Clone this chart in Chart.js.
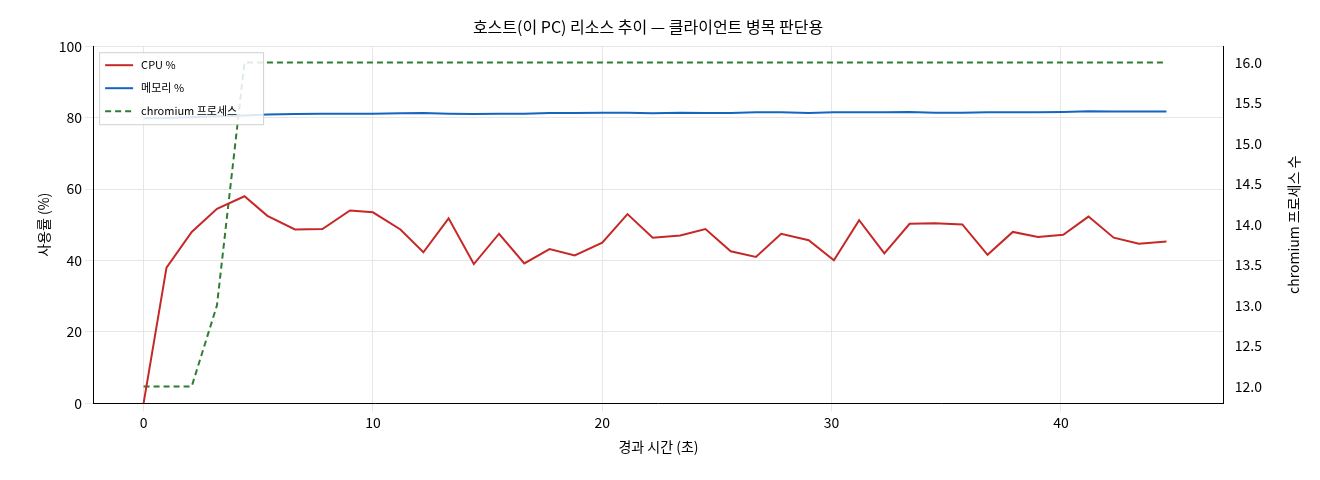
<!DOCTYPE html>
<html><head><meta charset="utf-8">
<script src="https://cdn.jsdelivr.net/npm/chart.js@4"></script>
<style>html,body{margin:0;background:#fff}#w{width:1320px;height:480px}</style>
</head><body><div id="w"><canvas id="c"></canvas></div>
<script>
const times=[0,1.0,2.1,3.2,4.4,5.4,6.6,7.8,9.0,10.0,11.2,12.2,13.3,14.4,15.5,16.6,17.7,18.8,20.0,21.1,22.2,23.4,24.5,25.6,26.7,27.8,29.0,30.1,31.2,32.3,33.4,34.5,35.7,36.8,37.9,39.0,40.1,41.2,42.3,43.4,44.6];
const cpu=[0,38,48,54.5,58,52.5,48.7,48.8,54,53.5,48.7,42.3,51.8,39,47.5,39.2,43.2,41.4,45,53,46.4,47,48.8,42.6,41,47.5,45.7,40.1,51.3,42,50.3,50.4,50.1,41.6,48,46.6,47.2,52.3,46.4,44.7,45.3];
const mem=[79.8,79.9,80.1,80.4,80.6,80.9,81.0,81.1,81.1,81.1,81.2,81.3,81.1,81.0,81.1,81.1,81.3,81.3,81.4,81.4,81.2,81.4,81.3,81.3,81.5,81.5,81.3,81.5,81.5,81.5,81.6,81.4,81.4,81.5,81.5,81.5,81.6,81.8,81.7,81.7,81.7];
const procs=[12,12,12,13,16,16,16,16,16,16,16,16,16,16,16,16,16,16,16,16,16,16,16,16,16,16,16,16,16,16,16,16,16,16,16,16,16,16,16,16,16];
const F='"Noto Sans CJK KR","DejaVu Sans",sans-serif';
const pts=a=>a.map((v,i)=>({x:times[i],y:v}));
const extra={id:'extra',afterDraw(ch){const c=ch.ctx,a=ch.chartArea;c.save();
 const x0=a.left+6,y0=a.top+6,w=164,h=72;
 c.fillStyle='rgba(255,255,255,0.85)';c.fillRect(x0,y0,w,h);c.strokeStyle='#d0d0d0';c.lineWidth=1;c.strokeRect(x0+0.5,y0+0.5,w,h);
 c.font='11px '+F;c.textBaseline='middle';c.fillStyle='#000';
 ch.data.datasets.forEach((d,i)=>{const y=y0+13+i*23;c.strokeStyle=d.borderColor;c.lineWidth=2;c.setLineDash(d.borderDash||[]);c.beginPath();c.moveTo(x0+6,y);c.lineTo(x0+34,y);c.stroke();c.setLineDash([]);c.fillText(d.label,x0+42,y);});
 c.translate(a.right+70,(a.top+a.bottom)/2);c.rotate(-Math.PI/2);c.textAlign='center';c.font='14px '+F;c.fillText('chromium 프로세스 수',0,0);c.restore();}};
new Chart(document.getElementById('c'),{type:'line',
data:{datasets:[
{label:'CPU %',data:pts(cpu),borderColor:'#c62828',borderWidth:2,pointRadius:0,yAxisID:'y'},
{label:'메모리 %',data:pts(mem),borderColor:'#1565c0',borderWidth:2,pointRadius:0,yAxisID:'y'},
{label:'chromium 프로세스',data:pts(procs),borderColor:'#2e7d32',borderWidth:2,borderDash:[6,4],pointRadius:0,yAxisID:'y1'}]},
options:{responsive:true,maintainAspectRatio:false,animation:false,
layout:{padding:{left:31,right:55,top:11,bottom:21}},
plugins:{title:{display:true,text:'호스트(이 PC) 리소스 추이 — 클라이언트 병목 판단용',font:{family:F,size:16,weight:'normal'},color:'#000',padding:{top:6,bottom:10}},
legend:{display:false},tooltip:{enabled:false}},
scales:{x:{type:'linear',min:-2.2,max:47.1,ticks:{color:'#000',font:{family:F,size:14}},afterBuildTicks:a=>{a.ticks=[0,10,20,30,40].map(v=>({value:v}));},
title:{display:true,text:'경과 시간 (초)',font:{family:F,size:14},color:'#000'},grid:{color:'#e6e6e6'},border:{color:'#000'}},
y:{min:0,max:100,ticks:{stepSize:20,color:'#000',font:{family:F,size:14}},title:{display:true,text:'사용률 (%)',font:{family:F,size:14},color:'#000'},grid:{color:'#e6e6e6'},border:{color:'#000'}},
y1:{position:'right',min:11.79,max:16.2,afterBuildTicks:a=>{a.ticks=[12,12.5,13,13.5,14,14.5,15,15.5,16].map(v=>({value:v}));},ticks:{color:'#000',font:{family:F,size:14},callback:v=>v.toFixed(1)},grid:{display:false},border:{color:'#000'}}}},
plugins:[extra]});
</script></body></html>
